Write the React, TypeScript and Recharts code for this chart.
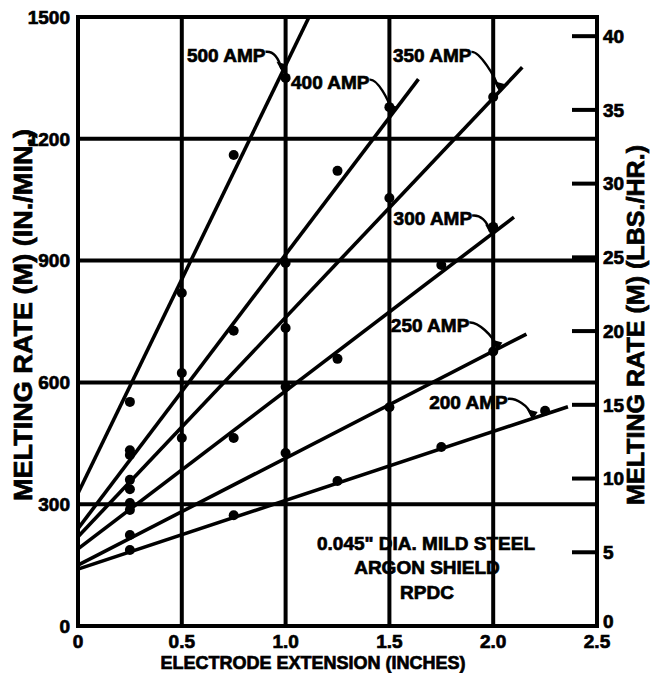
import React from 'react';
import {
  ComposedChart,
  Line,
  Scatter,
  XAxis,
  YAxis,
  CartesianGrid,
  ReferenceArea,
  ReferenceDot,
} from 'recharts';

const FONT = '"Liberation Sans", Arial, Helvetica, sans-serif';

// axis ticks
const extensionTicks = [0, 0.5, 1.0, 1.5, 2.0, 2.5];
const inMinTicks = [0, 300, 600, 900, 1200, 1500];
const lbsHrTicks = [0, 5, 10, 15, 20, 25, 30, 35, 40];

// fitted straight lines, end points
const line500 = [{ x: 0, y: 327 }, { x: 1.113, y: 1500 }];
const line400 = [{ x: 0, y: 240 }, { x: 1.64, y: 1347 }];
const line350 = [{ x: 0, y: 220 }, { x: 2.14, y: 1376 }];
const line300 = [{ x: 0, y: 190 }, { x: 2.1, y: 1007 }];
const line250 = [{ x: 0, y: 150 }, { x: 2.16, y: 719 }];
const line200 = [{ x: 0, y: 140 }, { x: 2.36, y: 540 }];

// measured points
const pts500 = [{ x: 0.25, y: 552 }, { x: 0.5, y: 820 }, { x: 0.75, y: 1160 }, { x: 1.0, y: 1350 }];
const pts400 = [
  { x: 0.25, y: 433 }, { x: 0.25, y: 421 }, { x: 0.5, y: 623 }, { x: 0.75, y: 727 },
  { x: 1.0, y: 894 }, { x: 1.25, y: 1121 }, { x: 1.5, y: 1278 },
];
const pts350 = [
  { x: 0.25, y: 360 }, { x: 0.25, y: 337 }, { x: 0.5, y: 463 }, { x: 1.0, y: 734 },
  { x: 1.5, y: 1054 }, { x: 2.0, y: 1303 },
];
const pts300 = [
  { x: 0.25, y: 303 }, { x: 0.25, y: 286 }, { x: 0.75, y: 463 }, { x: 1.0, y: 589 },
  { x: 1.25, y: 658 }, { x: 1.75, y: 889 }, { x: 2.0, y: 983 },
];
const pts250 = [{ x: 0.25, y: 224 }, { x: 1.0, y: 426 }, { x: 1.5, y: 539 }, { x: 2.0, y: 676 }];
const pts200 = [
  { x: 0.25, y: 187 }, { x: 0.75, y: 273 }, { x: 1.25, y: 357 }, { x: 1.75, y: 441 }, { x: 2.25, y: 530 },
];

// curve labels and where their leaders touch the lines
const ampLabels = ['500 AMP', '400 AMP', '350 AMP', '300 AMP', '250 AMP', '200 AMP'];
const labelTips = [
  { x: 0.985, y: 1365 },
  { x: 1.515, y: 1262 },
  { x: 2.03, y: 1318 },
  { x: 1.99, y: 964 },
  { x: 2.02, y: 681 },
  { x: 2.19, y: 510 },
];
// pixel offset of the label's right end from the tip
const labelOffsets = [
  { dx: -15, dy: -17 },
  { dx: -21, dy: -31 },
  { dx: -26, dy: -36 },
  { dx: -17, dy: -16 },
  { dx: -26, dy: -24 },
  { dx: -23, dy: -17 },
];

const INK = '#000';
const GRID_W = 4;

const Dot = (props: any) => {
  const { cx, cy } = props;
  if (cx == null || cy == null) return null;
  return <circle cx={cx} cy={cy} r={5} fill={INK} />;
};

const tickText = {
  fontFamily: FONT,
  fontWeight: 700,
  fontSize: 19,
  fill: INK,
  stroke: INK,
  strokeWidth: 0.7,
};

const LeftTick = ({ x, y, payload }: any) => (
  <text x={x} y={y} dy="0.36em" textAnchor="end" {...tickText}>
    {payload.value}
  </text>
);

const BottomTick = ({ x, y, payload }: any) => (
  <text x={x} y={y} dy="0.71em" textAnchor="middle" {...tickText}>
    {payload.value === 0 ? '0' : Number(payload.value).toFixed(1)}
  </text>
);

const RightTick = ({ x, y, payload }: any) => (
  <g>
    {payload.value > 0 && (
      <line x1={x - 5 - 25} x2={x - 5} y1={y} y2={y} stroke={INK} strokeWidth={GRID_W} />
    )}
    <text x={x + 1} y={payload.value === 0 ? y - 5 : y} dy="0.36em" textAnchor="start" {...tickText}>
      {payload.value}
    </text>
  </g>
);

const makeLabelShape = (text: string, off: { dx: number; dy: number }) => (props: any) => {
  const { cx, cy } = props;
  if (cx == null || cy == null) return null;
  const ex = cx + off.dx;
  const ey = cy + off.dy;
  return (
    <g>
      <text x={ex - 2} y={ey} dy="0.36em" textAnchor="end" {...tickText}>
        {text}
      </text>
      <path
        d={`M ${ex - 2} ${ey - 3} C ${ex + 6} ${ey - 4}, ${cx - 4} ${cy - 14}, ${cx - 1} ${cy - 3}`}
        fill="none"
        stroke={INK}
        strokeWidth={2.4}
      />
      <path d={`M ${cx - 6} ${cy - 10} L ${cx + 5} ${cy - 7} L ${cx} ${cy + 1} Z`} fill={INK} />
    </g>
  );
};

const series = [
  { name: '500 AMP', line: line500, pts: pts500 },
  { name: '400 AMP', line: line400, pts: pts400 },
  { name: '350 AMP', line: line350, pts: pts350 },
  { name: '300 AMP', line: line300, pts: pts300 },
  { name: '250 AMP', line: line250, pts: pts250 },
  { name: '200 AMP', line: line200, pts: pts200 },
];

const titleProps = {
  fontFamily: FONT,
  fontWeight: 700,
  fill: INK,
  stroke: INK,
  strokeWidth: 0.7,
};

export default function App() {
  return (
    <div style={{ position: 'absolute', left: 0, top: 0, width: 650, height: 673, background: '#fff' }}>
      <ComposedChart width={650} height={673} margin={{ top: 17, right: 0, bottom: 0, left: 0 }}>
        <CartesianGrid stroke={INK} strokeWidth={GRID_W} strokeOpacity={1} />
        <XAxis
          dataKey="x"
          type="number"
          domain={[0, 2.5]}
          ticks={extensionTicks}
          height={47}
          axisLine={false}
          tickLine={false}
          tickSize={0}
          tickMargin={9}
          tick={<BottomTick />}
          allowDuplicatedCategory={false}
        />
        <YAxis
          dataKey="y"
          type="number"
          domain={[0, 1500]}
          ticks={inMinTicks}
          width={78}
          axisLine={false}
          tickLine={false}
          tickSize={0}
          tickMargin={8}
          tick={<LeftTick />}
        />
        <YAxis
          yAxisId="lbs"
          orientation="right"
          type="number"
          domain={[0, 41.3]}
          allowDataOverflow
          ticks={lbsHrTicks}
          width={53}
          axisLine={false}
          tickLine={false}
          tickSize={0}
          tickMargin={5}
          tick={<RightTick />}
        />
        {series.map((s) => (
          <Line
            key={`l-${s.name}`}
            data={s.line}
            dataKey="y"
            type="linear"
            stroke={INK}
            strokeWidth={3.6}
            dot={false}
            activeDot={false}
            isAnimationActive={false}
          />
        ))}
        {series.map((s) => (
          <Scatter
            key={`p-${s.name}`}
            data={s.pts}
            dataKey="y"
            fill={INK}
            shape={<Dot />}
            isAnimationActive={false}
          />
        ))}
        <ReferenceArea x1={0} x2={2.5} y1={0} y2={1500} fill="none" stroke={INK} strokeWidth={GRID_W} ifOverflow="visible" />
        {ampLabels.map((t, i) => (
          <ReferenceDot
            key={t}
            x={labelTips[i].x}
            y={labelTips[i].y}
            r={0}
            ifOverflow="visible"
            shape={makeLabelShape(t, labelOffsets[i])}
          />
        ))}
      </ComposedChart>
      <svg width={650} height={673} style={{ position: 'absolute', left: 0, top: 0, pointerEvents: 'none' }}>
        <text
          transform="translate(23,315) rotate(-90)"
          textAnchor="middle"
          dominantBaseline="central"
          fontSize={26}
          textLength={372}
          lengthAdjust="spacingAndGlyphs"
          {...titleProps}
        >
          MELTING RATE (M) (IN./MIN.)
        </text>
        <text
          transform="translate(635,325) rotate(-90)"
          textAnchor="middle"
          dominantBaseline="central"
          fontSize={24}
          textLength={360}
          lengthAdjust="spacingAndGlyphs"
          {...titleProps}
        >
          MELTING RATE (M) (LBS./HR.)
        </text>
        <text x={313} y={663} textAnchor="middle" dominantBaseline="central" fontSize={18} {...titleProps}>
          ELECTRODE EXTENSION (INCHES)
        </text>
        <text x={426} y={543} textAnchor="middle" dominantBaseline="central" fontSize={19} {...titleProps}>
          0.045" DIA. MILD STEEL
        </text>
        <text x={427} y={567} textAnchor="middle" dominantBaseline="central" fontSize={19} {...titleProps}>
          ARGON SHIELD
        </text>
        <text x={427} y={592} textAnchor="middle" dominantBaseline="central" fontSize={19} {...titleProps}>
          RPDC
        </text>
      </svg>
    </div>
  );
}
